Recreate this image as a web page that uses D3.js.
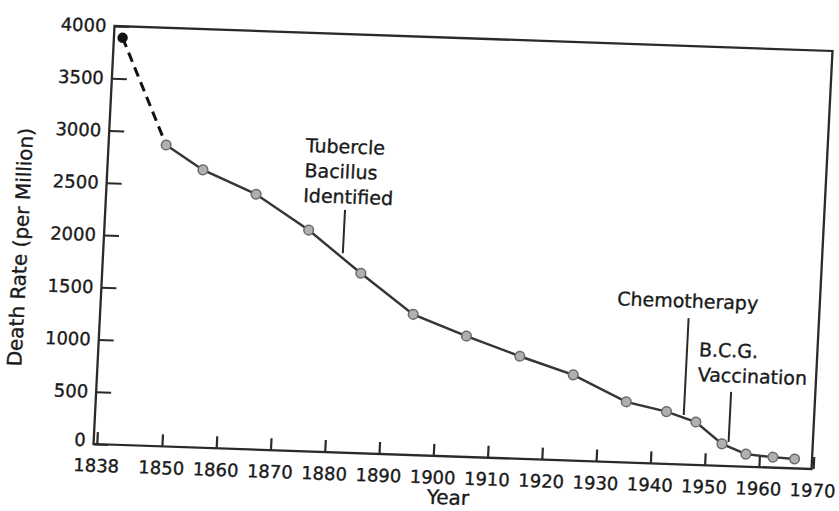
<!DOCTYPE html>
<html>
<head>
<meta charset="utf-8">
<script src="https://cdn.jsdelivr.net/npm/d3@7"></script>
<style>
  html, body { margin: 0; padding: 0; background: #fff; }
  svg { display: block; }
  text { font-family: "DejaVu Sans", "Liberation Sans", sans-serif; fill: #1a1a1a; stroke: #1a1a1a; stroke-width: 0.35px; }
</style>
</head>
<body>
<svg id="chart" width="839" height="511"></svg>
<script>
// ---- data ----
const years      = [1839, 1848, 1855, 1865, 1875, 1885, 1895, 1905, 1915, 1925, 1935, 1942.5, 1948, 1953, 1957.5, 1962.5, 1966.5];
const deathRate  = [3890, 2880, 2655, 2440, 2115, 1720, 1345, 1155,  980,  820,  580,  500,  410,  210,  120,  100,   90];

const xTickValues = [1838, 1850, 1860, 1870, 1880, 1890, 1900, 1910, 1920, 1930, 1940, 1950, 1960, 1970];
const xTickLabels = ["1838", "1850", "1860", "1870", "1880", "1890", "1900", "1910", "1920", "1930", "1940", "1950", "1960", "1970"];
const yTickValues = [0, 500, 1000, 1500, 2000, 2500, 3000, 3500, 4000];
const yTickLabels = ["0", "500", "1000", "1500", "2000", "2500", "3000", "3500", "4000"];

const annotationNames  = ["Tubercle Bacillus Identified", "Chemotherapy", "B.C.G. Vaccination"];
const annotationYears  = [1881.5, 1945.7, 1954.2];
const annotationTop    = [2320, 1400, 710];
const annotationBottom = [1905, 474, 230];
const annotationLines  = [["Tubercle", "Bacillus", "Identified"], ["Chemotherapy"], ["B.C.G.", "Vaccination"]];
const annotationTextYear  = [1873.7, 1932.4, 1947.9];
const annotationTextValue = [2860, 1500, 1040];

const xTitle = "Year";
const yTitle = "Death Rate (per Million)";

// ---- layout ----
const W = 718, H = 418;
const svg = d3.select("#chart");
svg.append("rect").attr("width", 839).attr("height", 511).attr("fill", "#fff");

// the printed figure is slightly rotated on the page
const g = svg.append("g").attr("transform", "matrix(1,0.0348,-0.0502,1,114.5,26)");

const x = d3.scaleLinear().domain([1837.4, 1969.7]).range([0, W]);
const y = d3.scaleLinear().domain([0, 4000]).range([H, 0]);

// frame
g.append("rect").attr("x", 0).attr("y", 0).attr("width", W).attr("height", H)
  .attr("fill", "none").attr("stroke", "#2a2a2a").attr("stroke-width", 2.3);

// y axis
const yAxis = d3.axisLeft(y).tickValues(yTickValues)
  .tickFormat((d, i) => yTickLabels[i]).tickSizeInner(-15).tickSizeOuter(0).tickPadding(8);
const gy = g.append("g").call(yAxis);
gy.select(".domain").remove();
gy.selectAll(".tick line").attr("stroke", "#2a2a2a").attr("stroke-width", 2.2);
gy.selectAll(".tick text").attr("font-size", 18).attr("fill", "#1a1a1a")
  .style("font-family", '"DejaVu Sans", sans-serif');
gy.selectAll(".tick").filter(d => d === 0).select("text").attr("dy", "0.1em");

// x axis
const xAxis = d3.axisBottom(x).tickValues(xTickValues)
  .tickFormat((d, i) => xTickLabels[i]).tickSizeInner(-12).tickSizeOuter(0).tickPadding(15);
const gx = g.append("g").attr("transform", `translate(0,${H})`).call(xAxis);
gx.select(".domain").remove();
gx.selectAll(".tick line").attr("stroke", "#2a2a2a").attr("stroke-width", 2.2);
gx.selectAll(".tick text").attr("font-size", 18).attr("fill", "#1a1a1a")
  .style("font-family", '"DejaVu Sans", sans-serif');

// axis titles
g.append("text").attr("transform", `translate(-83,${H * 0.536}) rotate(-90)`)
  .attr("text-anchor", "middle").attr("dy", "0.35em").attr("font-size", 20).text(yTitle);
g.append("text").attr("x", W * 0.4965).attr("y", H + 48)
  .attr("text-anchor", "middle").attr("font-size", 20).text(xTitle);

// annotations
annotationNames.forEach((name, i) => {
  g.append("line")
    .attr("x1", x(annotationYears[i])).attr("x2", x(annotationYears[i]))
    .attr("y1", y(annotationTop[i])).attr("y2", y(annotationBottom[i]))
    .attr("stroke", "#2a2a2a").attr("stroke-width", 2);
  const t = g.append("text").attr("font-size", 19)
    .attr("x", x(annotationTextYear[i])).attr("y", y(annotationTextValue[i]));
  annotationLines[i].forEach((ln, j) => {
    t.append("tspan").attr("x", x(annotationTextYear[i])).attr("dy", j === 0 ? 0 : 25).text(ln);
  });
});

// data line: dashed first segment, solid afterwards
const pts = years.map((yr, i) => [yr, deathRate[i]]);
const line = d3.line().x(d => x(d[0])).y(d => y(d[1]));
g.append("path").datum(pts.slice(0, 2)).attr("d", line)
  .attr("fill", "none").attr("stroke", "#111").attr("stroke-width", 3).attr("stroke-dasharray", "10,6");
g.append("path").datum(pts.slice(1)).attr("d", line)
  .attr("fill", "none").attr("stroke", "#353535").attr("stroke-width", 2.4);

g.selectAll("circle.pt").data(pts.slice(1)).enter().append("circle").attr("class", "pt")
  .attr("cx", d => x(d[0])).attr("cy", d => y(d[1])).attr("r", 4.8)
  .attr("fill", "#b0b0b0").attr("stroke", "#6a6a6a").attr("stroke-width", 1.5);
g.append("circle").datum(pts[0]).attr("cx", d => x(d[0])).attr("cy", d => y(d[1]))
  .attr("r", 5.2).attr("fill", "#111");
</script>
</body>
</html>
